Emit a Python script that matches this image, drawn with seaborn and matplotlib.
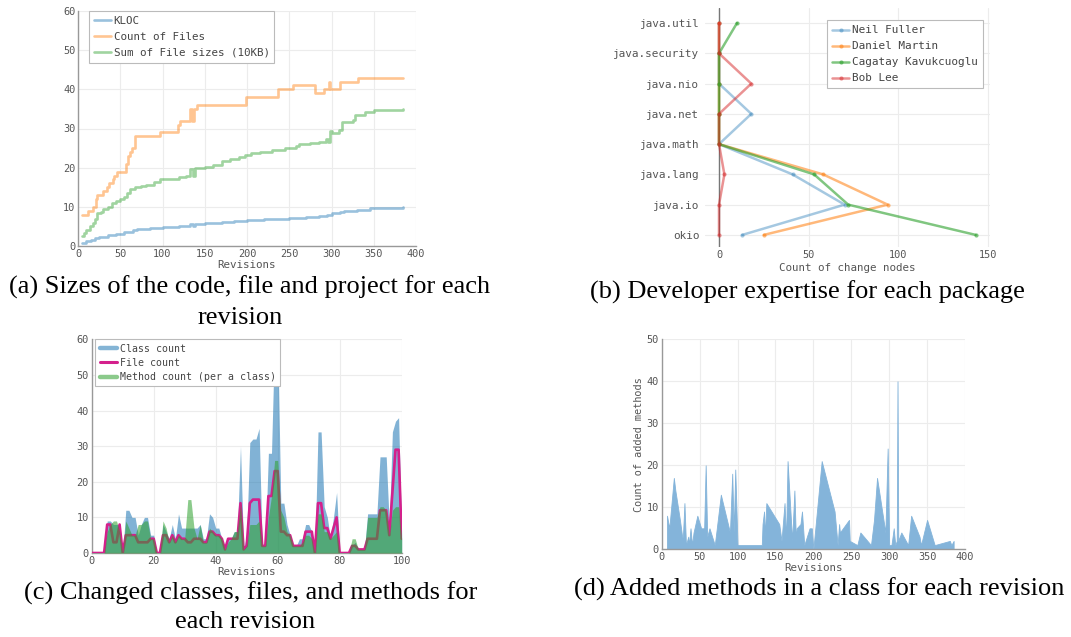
import numpy as np
import pandas as pd
import matplotlib
matplotlib.use("Agg")
import matplotlib.pyplot as plt
import seaborn as sns
from matplotlib.lines import Line2D

# ---------------- data: (a) sizes per revision (step breakpoints) ----------------
files_rev = [5, 12, 18, 21, 23, 30, 34, 37, 41, 43, 46, 57, 59, 62, 64, 68, 97, 118, 121, 132, 135,
             137, 141, 199, 237, 255, 280, 291, 297, 298, 310, 331, 385]
files_val = [8, 9, 10, 12, 13, 14, 15, 16, 17, 18, 19, 21, 23, 24, 25, 28, 29, 31, 32, 35, 32,
             35, 36, 38, 40, 41, 39, 40, 42, 40, 42, 43, 43]
size_rev = [5, 7, 10, 14, 18, 20, 22, 27, 30, 35, 40, 45, 50, 55, 58, 62, 68, 75, 80, 90, 97, 120,
            128, 133, 136, 138, 150, 160, 170, 180, 190, 198, 205, 215, 230, 245, 258, 262, 275,
            285, 293, 296, 298, 300, 309, 312, 325, 328, 340, 350, 370, 385]
size_val = [2.5, 3.3, 4, 5, 6, 7, 8.3, 8.8, 9.5, 10, 11, 11.5, 12, 12.5, 13.5, 14.5, 15, 15.3, 15.7,
            16.3, 17, 17.5, 18, 19.6, 18, 19.8, 20.2, 20.8, 21.8, 22.3, 22.8, 23.3, 23.8, 24.1,
            24.4, 25, 25.6, 26, 26.2, 26.6, 27.3, 26.6, 29.4, 28.9, 29.5, 31.7, 32.2, 33.5, 34.2,
            34.6, 34.8, 35]
kloc_rev = [5, 10, 15, 20, 25, 35, 45, 55, 65, 70, 85, 100, 120, 133, 136, 139, 150, 170, 185, 200,
            220, 250, 270, 285, 295, 300, 310, 315, 330, 345, 360, 385]
kloc_val = [0.8, 1.2, 1.6, 2.0, 2.4, 2.7, 3.1, 3.5, 4.0, 4.3, 4.6, 4.9, 5.1, 5.6, 5.2, 5.7, 5.9, 6.2,
            6.5, 6.7, 6.9, 7.1, 7.4, 7.6, 7.9, 8.3, 8.6, 9.0, 9.3, 9.6, 9.8, 9.9]
series_a = ["KLOC", "Count of Files", "Sum of File sizes (10KB)"]

# ---------------- data: (b) developer expertise ----------------
packages = ["okio", "java.io", "java.lang", "java.math", "java.net", "java.nio",
            "java.security", "java.util"]
developers = ["Neil Fuller", "Daniel Martin", "Cagatay Kavukcuoglu", "Bob Lee"]
neil = [13, 70, 41, 0, 18, 0, 0, 0]
daniel = [25, 94, 58, 0, 0, 0, 0, 0]
cagatay = [143, 72, 53, 0, 0, 0, 0, 10]
bob = [0, 0, 3, 0, 0, 18, 0, 0]

# ---------------- data: (c) changed classes/files/methods ----------------
rev_c = list(range(101))
class_count = [0, 0, 0, 0, 0, 9, 9, 8, 8, 8, 0, 12, 12, 10, 10, 5, 8, 10, 10, 5,
               5, 0, 0, 8, 6, 4, 8, 4, 11, 7, 7, 7, 7, 7, 7, 8, 4, 4, 11, 10,
               7, 7, 4, 1, 4, 4, 6, 6, 30, 1, 5, 31, 32, 32, 35, 2, 2, 28, 28, 60,
               60, 14, 14, 8, 5, 2, 2, 4, 4, 8, 8, 6, 0, 34, 34, 13, 10, 4, 10, 17,
               0, 0, 0, 0, 2, 3, 1, 1, 1, 11, 11, 11, 11, 27, 27, 27, 8, 34, 37, 38,
               5]
file_count = [0, 0, 0, 0, 0, 8, 8, 3, 3, 8, 0, 5, 5, 5, 5, 3, 3, 3, 3, 4,
              4, 0, 0, 5, 5, 3, 5, 3, 5, 4, 4, 3, 3, 4, 4, 4, 3, 3, 6, 6,
              5, 5, 4, 1, 4, 4, 4, 4, 14, 1, 2, 14, 15, 15, 15, 2, 2, 16, 16, 23,
              23, 6, 6, 5, 5, 2, 2, 2, 2, 6, 6, 6, 0, 14, 14, 7, 7, 4, 7, 10,
              0, 0, 0, 0, 2, 2, 1, 1, 1, 4, 4, 4, 4, 12, 12, 12, 5, 17, 29, 29,
              4]
method_count = [0, 0, 0, 0, 0, 6, 8, 9, 9, 6, 0, 9, 7, 5, 5, 8, 8, 9, 9, 4,
                4, 0, 0, 9, 7, 3, 5, 3, 5, 4, 4, 15, 15, 7, 4, 8, 3, 3, 7, 6,
                5, 5, 4, 1, 3, 4, 6, 6, 14, 1, 2, 8, 8, 8, 9, 2, 2, 10, 16, 26,
                26, 12, 10, 6, 5, 2, 2, 2, 3, 5, 5, 4, 0, 11, 11, 6, 6, 4, 5, 6,
                0, 0, 0, 0, 4, 4, 1, 1, 1, 10, 10, 10, 10, 13, 13, 12, 5, 12, 13, 13,
                4]

# ---------------- data: (d) added methods per revision ----------------
rev_d = [7, 10, 16, 18, 24, 27, 28, 30, 32, 35, 36, 38, 40, 42, 47, 52, 56, 58, 60, 63,
         70, 78, 90, 93, 95, 97, 100, 132, 133, 135, 136, 138, 155, 158, 162, 164, 166, 172,
         175, 177, 178, 183, 185, 188, 195, 198, 200, 211, 228, 232, 234, 235, 247, 248,
         258, 262, 276, 280, 284, 295, 298, 300, 303, 306, 308, 310, 311, 312, 316, 325,
         329, 340, 342, 350, 360, 380, 382, 385]
added = [8, 5, 17, 14, 7, 3, 3, 11, 1, 3, 1, 5, 1, 4, 8, 5, 5, 20, 3, 5,
         1, 13, 4, 18, 4, 19, 1, 1, 6, 9, 3, 11, 6, 2, 11, 2, 21, 2,
         14, 2, 5, 6, 9, 1, 5, 5, 0, 21, 9, 1, 6, 4, 7, 2,
         1, 4, 1, 7, 17, 4, 24, 1, 1, 5, 1, 2, 40, 2, 4, 1,
         8, 3, 1, 7, 1, 2, 1, 2]

captions = ["(a) Sizes of the code, file and project for each", "revision",
            "(b) Developer expertise for each package",
            "(c) Changed classes, files, and methods for", "each revision",
            "(d) Added methods in a class for each revision"]

# ---------------- style ----------------
sns.set_theme(style="whitegrid")
plt.rcParams["font.family"] = ["DejaVu Sans Mono"]
plt.rcParams.update({"grid.color": "#ececec", "grid.linewidth": 0.8})

W, H = 1071, 637
fig = plt.figure(figsize=(W / 100, H / 100), dpi=100)
fig.patch.set_facecolor("white")


def rect(l, t, r, b):
    return [l / W, 1 - b / H, (r - l) / W, (b - t) / H]


TICK = "#555555"
FS_TICK = 7.4
FS_LAB = 7.8


def style(ax, zero_left=True, zero_bottom=True):
    ax.set_facecolor("white")
    ax.tick_params(labelsize=FS_TICK, colors=TICK, length=0, pad=2)
    for s in ["top", "right"]:
        ax.spines[s].set_visible(False)
    ax.spines["left"].set_visible(zero_left)
    ax.spines["bottom"].set_visible(zero_bottom)
    for s in ["left", "bottom"]:
        ax.spines[s].set_color("#999999")
        ax.spines[s].set_linewidth(1.0)
    ax.grid(True)


def legend(ax, handles, labels, fs=FS_LAB, spacing=0.55, hl=1.55, **kw):
    lg = ax.legend(handles, labels, fontsize=fs, frameon=True, fancybox=False,
                   edgecolor="#bbbbbb", framealpha=1, borderpad=0.45, labelspacing=spacing,
                   handlelength=hl, handletextpad=0.25, borderaxespad=0, **kw)
    lg.get_frame().set_linewidth(0.8)
    for t in lg.get_texts():
        t.set_color("#444444")
    return lg


blue, orange, green, red = "#1f77b4", "#ff7f0e", "#2ca02c", "#d62728"

# ---------------- (a) ----------------
axa = fig.add_axes(rect(78, 11, 416, 246))
df_a = pd.concat([
    pd.DataFrame({"rev": kloc_rev, "v": kloc_val, "s": series_a[0]}),
    pd.DataFrame({"rev": files_rev, "v": files_val, "s": series_a[1]}),
    pd.DataFrame({"rev": size_rev, "v": size_val, "s": series_a[2]}),
])
pal_a = {series_a[0]: blue, series_a[1]: orange, series_a[2]: green}
sns.lineplot(data=df_a, x="rev", y="v", hue="s", palette=pal_a, estimator=None,
             drawstyle="steps-post", linewidth=1.9, alpha=0.45, ax=axa, legend=False)
axa.set_xlim(0, 400)
axa.set_ylim(0, 60)
axa.set_xticks(range(0, 401, 50))
axa.set_yticks(range(0, 61, 10))
style(axa)
axa.set_xlabel("Revisions", fontsize=FS_LAB, color=TICK, va="center")
axa.xaxis.set_label_coords(0.5, -0.081)
axa.set_ylabel("")
legend(axa, [Line2D([], [], color=pal_a[s], lw=1.9, alpha=0.45) for s in series_a], series_a,
       loc="upper left", bbox_to_anchor=(0.033, 1.0))

# ---------------- (b) ----------------
axb = fig.add_axes(rect(705, 8, 990, 247))
ypos = list(range(len(packages)))
dev_vals = [neil, daniel, cagatay, bob]
dev_cols = [blue, orange, green, red]
dev_alpha = [0.4, 0.55, 0.6, 0.5]
for name, vals, c, a in zip(developers, dev_vals, dev_cols, dev_alpha):
    sns.lineplot(x=vals, y=ypos, sort=False, estimator=None, color=c, alpha=a, lw=1.8,
                 marker="o", markersize=3, markeredgewidth=0, ax=axb, label=name, legend=False)
axb.set_xlim(-7.8, 151)
axb.set_ylim(-0.4, 7.5)
axb.set_yticks(ypos)
axb.set_yticklabels(packages)
axb.set_xticks([0, 50, 100, 150])
style(axb, zero_left=False, zero_bottom=False)
axb.tick_params(axis="y", labelsize=7.9, pad=4)
axb.tick_params(axis="x", labelsize=FS_TICK)
axb.axvline(0, color="#777777", lw=1.0, zorder=1)
axb.set_xlabel("Count of change nodes", fontsize=FS_LAB, color=TICK, va="center")
axb.xaxis.set_label_coords(0.5, -0.088)
axb.set_ylabel("")
legend(axb, [Line2D([], [], color=c, alpha=a, lw=1.8, marker="o", markersize=3,
                    markeredgewidth=0) for c, a in zip(dev_cols, dev_alpha)], developers,
       fs=7.9, loc="upper right", bbox_to_anchor=(0.975, 0.948))

# ---------------- (c) ----------------
axc = fig.add_axes(rect(91.7, 339.3, 401.7, 553))
axc.fill_between(rev_c, class_count, 0, color=blue, alpha=0.56, lw=0, zorder=2)
sns.lineplot(x=rev_c, y=file_count, color="#d4208c", lw=1.9, estimator=None, ax=axc, zorder=3)
axc.fill_between(rev_c, method_count, 0, color=green, alpha=0.55, lw=0, zorder=4)
axc.set_xlim(0, 100)
axc.set_ylim(0, 60)
axc.set_xticks(range(0, 101, 20))
axc.set_yticks(range(0, 61, 10))
style(axc)
axc.set_xlabel("Revisions", fontsize=FS_LAB, color=TICK, va="center")
axc.xaxis.set_label_coords(0.5, -0.0875)
axc.set_ylabel("")
legend(axc, [Line2D([], [], color=blue, alpha=0.55, lw=3.2),
             Line2D([], [], color="#d4208c", lw=2.2),
             Line2D([], [], color=green, alpha=0.55, lw=3.2)],
       ["Class count", "File count", "Method count (per a class)"],
       fs=7.1, spacing=0.42, hl=1.75,
       loc="upper left", bbox_to_anchor=(0.012, 1.0))

# ---------------- (d) ----------------
axd = fig.add_axes(rect(661.7, 339.3, 965, 549.3))
axd.fill_between(rev_d, added, 0, color="#84b4da", lw=0.6, edgecolor="#84b4da")
axd.set_xlim(0, 400)
axd.set_ylim(0, 50)
axd.set_xticks(range(0, 401, 50))
axd.set_yticks(range(0, 51, 10))
style(axd)
axd.set_xlabel("Revisions", fontsize=FS_LAB, color=TICK, va="center")
axd.xaxis.set_label_coords(0.5, -0.0876)
axd.set_ylabel("Count of added methods", fontsize=7.4, color=TICK, va="center")
axd.yaxis.set_label_coords(-0.075, 0.5)

# ---------------- captions ----------------
cap_kw = dict(ha="center", va="center", family="Liberation Serif", fontsize=19, color="black")
fig.text(250 / W, 1 - 287 / H, captions[0], **cap_kw)
fig.text(240 / W, 1 - 318 / H, captions[1], **cap_kw)
fig.text(807 / W, 1 - 292 / H, captions[2], **cap_kw)
fig.text(251 / W, 1 - 593 / H, captions[3], **cap_kw)
fig.text(245 / W, 1 - 622 / H, captions[4], **cap_kw)
fig.text(819 / W, 1 - 589 / H, captions[5], **cap_kw)

fig.savefig("out.png", dpi=100, facecolor="white")
